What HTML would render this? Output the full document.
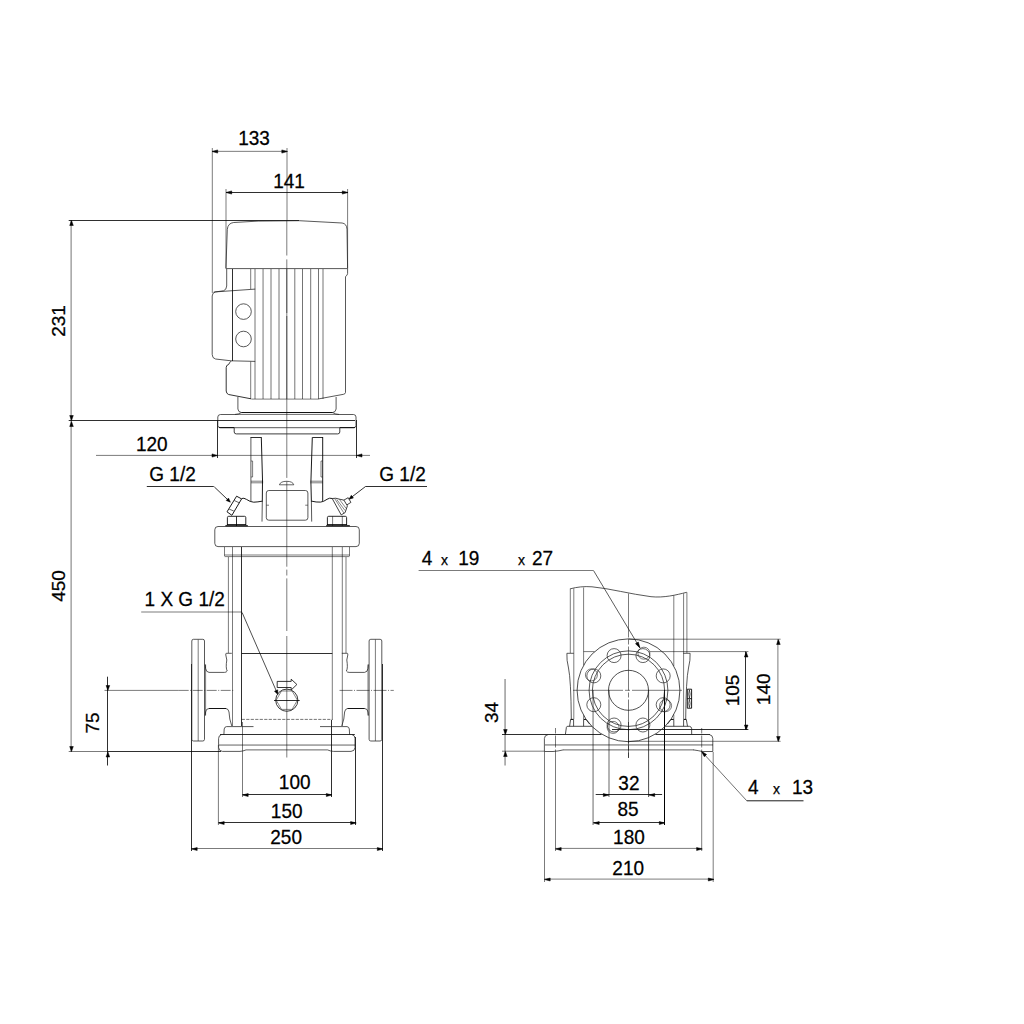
<!DOCTYPE html>
<html lang="en">
<head>
<meta charset="utf-8">
<title>Pump dimensional drawing</title>
<style>
html,body{margin:0;padding:0;background:#fff;}
body{width:1024px;height:1024px;overflow:hidden;}
svg{display:block;}
svg text{font-family:"Liberation Sans",sans-serif;font-size:19px;fill:#000;stroke:#000;stroke-width:0.25px;}
</style>
</head>
<body>
<svg width="1024" height="1024" viewBox="0 0 1024 1024">
<rect width="1024" height="1024" fill="#fff"/>
<line x1="212.30" y1="148.0" x2="212.30" y2="293.0" stroke="#000" stroke-width="0.52"/>
<line x1="287.00" y1="148.0" x2="287.00" y2="221.0" stroke="#000" stroke-width="0.52"/>
<line x1="212.0" y1="151.35" x2="287.0" y2="151.35" stroke="#000" stroke-width="0.52"/>
<polygon points="212.0,151.5 217.7,149.9 217.7,153.1" fill="#000" stroke="#000" stroke-width="0.5" stroke-linejoin="round"/>
<polygon points="287.5,151.5 281.8,153.1 281.8,149.9" fill="#000" stroke="#000" stroke-width="0.5" stroke-linejoin="round"/>
<text transform="translate(254.0 145.3) scale(1 1.04)" text-anchor="middle">133</text>
<line x1="226.00" y1="189.0" x2="226.00" y2="268.0" stroke="#000" stroke-width="0.52"/>
<line x1="347.60" y1="189.0" x2="347.60" y2="268.0" stroke="#000" stroke-width="0.52"/>
<line x1="226.0" y1="192.50" x2="348.0" y2="192.50" stroke="#000" stroke-width="0.82"/>
<polygon points="226.0,192.5 231.7,190.9 231.7,194.1" fill="#000" stroke="#000" stroke-width="0.5" stroke-linejoin="round"/>
<polygon points="348.0,192.5 342.3,194.1 342.3,190.9" fill="#000" stroke="#000" stroke-width="0.5" stroke-linejoin="round"/>
<text transform="translate(289.0 187.8) scale(1 1.04)" text-anchor="middle">141</text>
<line x1="71.10" y1="220.0" x2="71.10" y2="752.0" stroke="#000" stroke-width="0.55"/>
<line x1="68.7" y1="220.50" x2="299.0" y2="220.50" stroke="#000" stroke-width="0.82"/>
<line x1="68.7" y1="420.50" x2="355.0" y2="420.50" stroke="#000" stroke-width="0.82"/>
<line x1="68.7" y1="751.50" x2="107.4" y2="751.50" stroke="#000" stroke-width="0.52"/>
<line x1="107.4" y1="751.50" x2="221.0" y2="751.50" stroke="#000" stroke-width="0.82"/>
<polygon points="71.5,220.5 73.3,225.5 69.7,225.5" fill="#000" stroke="#000" stroke-width="0.5" stroke-linejoin="round"/>
<polygon points="71.5,420.5 69.7,415.5 73.3,415.5" fill="#000" stroke="#000" stroke-width="0.5" stroke-linejoin="round"/>
<polygon points="71.5,421.5 73.3,426.5 69.7,426.5" fill="#000" stroke="#000" stroke-width="0.5" stroke-linejoin="round"/>
<polygon points="71.5,751.5 69.7,746.5 73.3,746.5" fill="#000" stroke="#000" stroke-width="0.5" stroke-linejoin="round"/>
<text transform="translate(65.4 321.0) rotate(-90)" text-anchor="middle">231</text>
<text transform="translate(65.4 586.0) rotate(-90)" text-anchor="middle">450</text>
<line x1="107.50" y1="676.7" x2="107.50" y2="765.5" stroke="#000" stroke-width="0.82"/>
<polygon points="107.9,690.5 106.1,685.5 109.7,685.5" fill="#000" stroke="#000" stroke-width="0.5" stroke-linejoin="round"/>
<polygon points="107.9,752.0 109.7,757.0 106.1,757.0" fill="#000" stroke="#000" stroke-width="0.5" stroke-linejoin="round"/>
<text transform="translate(99.2 723.0) rotate(-90)" text-anchor="middle">75</text>
<line x1="96.0" y1="455.40" x2="370.0" y2="455.40" stroke="#000" stroke-width="0.52"/>
<line x1="217.50" y1="420.0" x2="217.50" y2="458.0" stroke="#000" stroke-width="0.82"/>
<line x1="356.50" y1="420.0" x2="356.50" y2="458.0" stroke="#000" stroke-width="0.82"/>
<polygon points="217.5,455.5 212.0,457.1 212.0,453.9" fill="#000" stroke="#000" stroke-width="0.5" stroke-linejoin="round"/>
<polygon points="356.5,455.5 362.0,453.9 362.0,457.1" fill="#000" stroke="#000" stroke-width="0.5" stroke-linejoin="round"/>
<text transform="translate(151.8 450.8) scale(1 1.04)" text-anchor="middle">120</text>
<line x1="146.8" y1="486.50" x2="213.8" y2="486.50" stroke="#000" stroke-width="0.82"/>
<path d="M214.3 486.9 L229.3 501.2" fill="none" stroke="#000" stroke-width="0.8" />
<polygon points="230.4,502.2 226.2,500.5 228.5,498.1" fill="#000" stroke="#000" stroke-width="0.5" stroke-linejoin="round"/>
<text transform="translate(172.5 480.6) scale(1 1.04)" text-anchor="middle">G 1/2</text>
<line x1="365.4" y1="486.50" x2="427.0" y2="486.50" stroke="#000" stroke-width="0.82"/>
<path d="M365.4 486.6 L350.5 498" fill="none" stroke="#000" stroke-width="0.8" />
<polygon points="349.0,499.2 351.3,495.3 353.4,498.0" fill="#000" stroke="#000" stroke-width="0.5" stroke-linejoin="round"/>
<text transform="translate(402.5 480.6) scale(1 1.04)" text-anchor="middle">G 1/2</text>
<line x1="141.2" y1="612.00" x2="242.1" y2="612.00" stroke="#000" stroke-width="0.52"/>
<path d="M242.1 612.5 L277.2 693" fill="none" stroke="#222" stroke-width="0.8" />
<polygon points="277.9,694.6 274.5,691.2 277.7,689.8" fill="#000" stroke="#000" stroke-width="0.5" stroke-linejoin="round"/>
<text transform="translate(184.7 605.8) scale(1 1.04)" text-anchor="middle">1 X G 1/2</text>
<line x1="242.50" y1="722.0" x2="242.50" y2="797.0" stroke="#000" stroke-width="0.52"/>
<line x1="331.50" y1="720.0" x2="331.50" y2="797.0" stroke="#000" stroke-width="0.82"/>
<line x1="242.5" y1="794.50" x2="332.0" y2="794.50" stroke="#000" stroke-width="0.82"/>
<polygon points="242.5,795.0 248.2,793.5 248.2,796.5" fill="#000" stroke="#000" stroke-width="0.5" stroke-linejoin="round"/>
<polygon points="332.0,795.0 326.3,796.5 326.3,793.5" fill="#000" stroke="#000" stroke-width="0.5" stroke-linejoin="round"/>
<text transform="translate(294.7 788.6) scale(1 1.04)" text-anchor="middle">100</text>
<line x1="218.40" y1="745.0" x2="218.40" y2="825.0" stroke="#000" stroke-width="0.52"/>
<line x1="355.50" y1="737.0" x2="355.50" y2="825.0" stroke="#000" stroke-width="0.82"/>
<line x1="218.5" y1="822.50" x2="356.0" y2="822.50" stroke="#000" stroke-width="0.82"/>
<polygon points="218.5,823.0 224.2,821.5 224.2,824.5" fill="#000" stroke="#000" stroke-width="0.5" stroke-linejoin="round"/>
<polygon points="356.3,823.0 350.6,824.5 350.6,821.5" fill="#000" stroke="#000" stroke-width="0.5" stroke-linejoin="round"/>
<text transform="translate(286.7 817.6) scale(1 1.04)" text-anchor="middle">150</text>
<line x1="191.50" y1="664.0" x2="191.50" y2="851.0" stroke="#000" stroke-width="0.82"/>
<line x1="382.50" y1="664.0" x2="382.50" y2="851.0" stroke="#000" stroke-width="0.82"/>
<line x1="191.3" y1="848.50" x2="382.9" y2="848.50" stroke="#000" stroke-width="0.52"/>
<polygon points="191.5,849.0 197.2,847.5 197.2,850.5" fill="#000" stroke="#000" stroke-width="0.5" stroke-linejoin="round"/>
<polygon points="383.0,849.0 377.3,850.5 377.3,847.5" fill="#000" stroke="#000" stroke-width="0.5" stroke-linejoin="round"/>
<text transform="translate(286.1 843.7) scale(1 1.04)" text-anchor="middle">250</text>
<line x1="286.80" y1="221.0" x2="286.80" y2="255.5" stroke="#000" stroke-width="0.52"/>
<line x1="286.80" y1="259.4" x2="286.80" y2="477.9" stroke="#000" stroke-width="0.52"/>
<line x1="286.80" y1="481.2" x2="286.80" y2="566.7" stroke="#000" stroke-width="0.52"/>
<line x1="286.80" y1="569.6" x2="286.80" y2="575.5" stroke="#000" stroke-width="0.52"/>
<line x1="286.80" y1="578.4" x2="286.80" y2="631.0" stroke="#000" stroke-width="0.52"/>
<line x1="286.80" y1="636.0" x2="286.80" y2="757.5" stroke="#000" stroke-width="0.52"/>
<line x1="286.80" y1="269.0" x2="286.80" y2="313.0" stroke="#000" stroke-width="0.5"/>
<line x1="286.80" y1="316.0" x2="286.80" y2="399.0" stroke="#000" stroke-width="0.5"/>
<line x1="104.5" y1="690.40" x2="178.7" y2="690.40" stroke="#000" stroke-width="0.52"/>
<line x1="178.7" y1="690.40" x2="234.7" y2="690.40" stroke="#000" stroke-width="0.52" stroke-dasharray="10 1.5 1 1.5"/>
<line x1="339.5" y1="690.40" x2="393.8" y2="690.40" stroke="#000" stroke-width="0.52" stroke-dasharray="13 1.5 1 1.5"/>
<path d="M225.9 268.6 L227.3 229.5 Q227.8 223.2 233.7 222.5 L258.1 221.1 L299.1 220.7 L342.1 223 Q346.6 223.6 347 229.1 L347.6 268.6 Z" fill="none" stroke="#222" stroke-width="0.75" />
<path d="M347.6 268.6 L347.6 273.5 Q347.4 275.5 345.5 276.6 L345.5 392.5 Q345.3 394 343.5 394.3 L318.7 398.9" fill="none" stroke="#222" stroke-width="0.75" />
<line x1="255.00" y1="269.0" x2="255.00" y2="399.0" stroke="#000" stroke-width="0.55"/>
<line x1="263.05" y1="269.0" x2="263.05" y2="399.0" stroke="#000" stroke-width="0.55"/>
<line x1="271.00" y1="269.0" x2="271.00" y2="399.0" stroke="#000" stroke-width="0.55"/>
<line x1="279.00" y1="269.0" x2="279.00" y2="399.0" stroke="#000" stroke-width="0.55"/>
<line x1="294.80" y1="269.0" x2="294.80" y2="399.0" stroke="#000" stroke-width="0.55"/>
<line x1="302.50" y1="269.0" x2="302.50" y2="399.0" stroke="#000" stroke-width="0.55"/>
<line x1="310.70" y1="269.0" x2="310.70" y2="399.0" stroke="#000" stroke-width="0.55"/>
<line x1="318.50" y1="269.0" x2="318.50" y2="399.0" stroke="#000" stroke-width="0.55"/>
<line x1="323.00" y1="269.0" x2="323.00" y2="399.0" stroke="#000" stroke-width="0.55"/>
<line x1="250.70" y1="269.0" x2="250.70" y2="289.0" stroke="#000" stroke-width="0.52"/>
<line x1="250.70" y1="361.5" x2="250.70" y2="399.0" stroke="#000" stroke-width="0.52"/>
<line x1="251.3" y1="399.10" x2="318.7" y2="399.10" stroke="#000" stroke-width="0.52"/>
<path d="M226.7 269 L226.7 286 Q226.5 289.8 223.5 290.8 L215.5 291.9 Q212.2 292.6 212.2 296 L212.2 354.5 Q212.2 358.3 215.5 359 L231 360.8" fill="none" stroke="#222" stroke-width="0.75" />
<path d="M213.8 292 L255.2 289.1" fill="none" stroke="#222" stroke-width="0.75" />
<path d="M231 360.8 L255.2 361.4" fill="none" stroke="#222" stroke-width="0.75" />
<line x1="232.50" y1="269.0" x2="232.50" y2="361.0" stroke="#000" stroke-width="0.82"/>
<circle cx="243.5" cy="311.6" r="7.8" fill="none" stroke="#222" stroke-width="0.75"/>
<circle cx="243.5" cy="339.0" r="7.8" fill="none" stroke="#222" stroke-width="0.75"/>
<path d="M231 361.2 Q229.5 362.5 228.6 364.5 Q226.2 365 226.2 367.5 L226.2 391 Q226.4 393.8 228.6 394.5 L251 398.8" fill="none" stroke="#111" stroke-width="0.85" />
<path d="M237.9 397 L237.9 409 Q238.2 412.2 241.5 412.6 L332.5 412.6 Q335.8 412.2 336.1 409 L336.1 397" fill="none" stroke="#222" stroke-width="0.75" />
<path d="M241.5 412.6 Q238.5 414.3 234.5 414.5 L220.5 414.5 Q217.8 414.7 217.8 417 L217.8 425.5 Q217.8 427.7 220.5 427.7 L353.5 427.7 Q356 427.7 356 425.5 L356 417 Q356 414.7 353.5 414.5 L339.5 414.5 Q335.5 414.3 332.5 412.6" fill="none" stroke="#222" stroke-width="0.75" />
<line x1="241.5" y1="412.50" x2="332.5" y2="412.50" stroke="#000" stroke-width="0.82"/>
<path d="M219 427.6 L234.2 427.6 M339.8 427.6 L355 427.6" fill="none" stroke="#000" stroke-width="0.9" />
<line x1="234.5" y1="414.50" x2="339.5" y2="414.50" stroke="#000" stroke-width="0.52"/>
<path d="M234.2 427.7 L234.2 432 Q234.3 433.9 236.3 433.9 L337.7 433.9 Q339.7 433.9 339.8 432 L339.8 427.7" fill="none" stroke="#333" stroke-width="0.95" />
<line x1="250.7" y1="437.50" x2="261.6" y2="437.50" stroke="#000" stroke-width="0.82"/>
<line x1="312.4" y1="437.50" x2="322.9" y2="437.50" stroke="#000" stroke-width="0.82"/>
<path d="M250.9 437 L250.9 501" fill="none" stroke="#222" stroke-width="0.75" />
<path d="M261.3 437.4 L262.5 480 L262.3 502" fill="none" stroke="#000" stroke-width="0.9" />
<path d="M262.3 502 L262 521.6" fill="none" stroke="#222" stroke-width="0.75" />
<path d="M322.7 437 L322.7 501" fill="none" stroke="#000" stroke-width="0.9" />
<path d="M312.3 437.4 L310.9 482 L311.4 502" fill="none" stroke="#000" stroke-width="0.9" />
<path d="M311.4 502 L311.7 521.6" fill="none" stroke="#222" stroke-width="0.75" />
<line x1="251.0" y1="481.20" x2="263.2" y2="481.20" stroke="#000" stroke-width="0.52"/>
<line x1="251.0" y1="482.80" x2="263.2" y2="482.80" stroke="#000" stroke-width="0.52"/>
<line x1="310.4" y1="481.20" x2="322.6" y2="481.20" stroke="#000" stroke-width="0.52"/>
<line x1="310.4" y1="482.80" x2="322.6" y2="482.80" stroke="#000" stroke-width="0.52"/>
<path d="M251 461 L252.6 461 L252.6 477 L251 477" fill="none" stroke="#222" stroke-width="0.6" />
<path d="M322.6 461 L321 461 L321 477 L322.6 477" fill="none" stroke="#222" stroke-width="0.6" />
<path d="M268.8 490.5 L305.4 490.5 Q307.9 490.5 307.9 493 L307.9 517.7 Q307.9 520.2 305.4 520.2 L268.8 520.2 Q266.3 520.2 266.3 517.7 L266.3 493 Q266.3 490.5 268.8 490.5 Z" fill="none" stroke="#222" stroke-width="0.75" />
<path d="M266.3 505.2 L269 505.2 M305.2 505.2 L307.9 505.2" fill="none" stroke="#222" stroke-width="0.6" />
<path d="M279.4 484.8 Q280.5 481.3 286.6 481.3 Q292.7 481.3 293.8 484.8 Z" fill="none" stroke="#222" stroke-width="0.7" />
<path d="M241.6 498.5 Q243.8 497.6 246.5 499.4 Q250.2 502 253.7 502.2 Q258 502 262 501.2" fill="none" stroke="#000" stroke-width="0.9" />
<path d="M332.2 498.5 Q329.6 497.5 327 499.3 Q323.5 501.9 320.5 502.1 Q316 502.3 311.9 501.2" fill="none" stroke="#000" stroke-width="0.9" />
<path d="M236.6 496.2 L241.6 498.9 L231.9 515.3 L227 511.8 Z" fill="none" stroke="#000" stroke-width="0.9" />
<path d="M234.2 500.5 L239.3 502.8 M229.1 509.1 L233.8 511" fill="none" stroke="#222" stroke-width="0.7" />
<path d="M332.2 498.5 Q335.5 497.6 340 499.3 L343.9 500.1 L347.4 505.9 L345.1 512.6 L341.2 514.9 Z" fill="none" stroke="#111" stroke-width="0.8" />
<path d="M334.9 498.9 L343.9 513 M336.9 499.7 L345.1 510.6 M339.5 499.5 L346.2 508.5" fill="none" stroke="#222" stroke-width="0.55" />
<path d="M343.9 500.1 L348.2 497.7 L350.9 502.4 L347 504.8" fill="none" stroke="#111" stroke-width="0.8" />
<path d="M227.4 525 L227.4 517.6 Q227.4 516.3 228.7 516.3 L244.5 516.3 Q245.8 516.3 245.8 517.6 L245.8 525" fill="none" stroke="#111" stroke-width="0.9" />
<line x1="236.50" y1="516.3" x2="236.50" y2="526.0" stroke="#000" stroke-width="0.82"/>
<line x1="227.0" y1="524.50" x2="246.0" y2="524.50" stroke="#000" stroke-width="0.82"/>
<line x1="225.4" y1="525.80" x2="247.8" y2="525.80" stroke="#000" stroke-width="1.2"/>
<path d="M327.4 525 L327.4 517.6 Q327.4 516.3 328.7 516.3 L345.3 516.3 Q346.6 516.3 346.6 517.6 L346.6 525" fill="none" stroke="#111" stroke-width="0.9" />
<line x1="332.60" y1="516.3" x2="332.60" y2="526.0" stroke="#000" stroke-width="0.52"/>
<line x1="342.30" y1="516.3" x2="342.30" y2="526.0" stroke="#000" stroke-width="0.52"/>
<line x1="327.0" y1="524.50" x2="347.0" y2="524.50" stroke="#000" stroke-width="0.82"/>
<line x1="326.2" y1="525.80" x2="349.8" y2="525.80" stroke="#000" stroke-width="1.2"/>
<path d="M218 526.5 L356 526.5 Q359.3 526.5 359.3 529.8 L359.3 543.3 Q359.3 546.6 356 546.6 L218 546.6 Q214.8 546.6 214.8 543.3 L214.8 529.8 Q214.8 526.5 218 526.5 Z" fill="none" stroke="#222" stroke-width="0.75" />
<line x1="224.50" y1="547.0" x2="224.50" y2="556.0" stroke="#000" stroke-width="0.52"/>
<line x1="349.50" y1="547.0" x2="349.50" y2="556.0" stroke="#000" stroke-width="0.52"/>
<line x1="224.5" y1="555.00" x2="349.5" y2="555.00" stroke="#000" stroke-width="0.52"/>
<line x1="224.5" y1="556.60" x2="349.5" y2="556.60" stroke="#000" stroke-width="0.52"/>
<line x1="241.50" y1="547.0" x2="241.50" y2="726.0" stroke="#000" stroke-width="0.82"/>
<line x1="332.30" y1="547.0" x2="332.30" y2="720.0" stroke="#000" stroke-width="0.52"/>
<line x1="228.40" y1="557.0" x2="228.40" y2="653.0" stroke="#000" stroke-width="0.52"/>
<line x1="232.50" y1="547.0" x2="232.50" y2="726.0" stroke="#000" stroke-width="0.52"/>
<line x1="346.00" y1="557.0" x2="346.00" y2="653.0" stroke="#000" stroke-width="0.52"/>
<line x1="342.30" y1="547.0" x2="342.30" y2="726.0" stroke="#000" stroke-width="0.52"/>
<line x1="241.7" y1="653.50" x2="332.3" y2="653.50" stroke="#000" stroke-width="0.82"/>
<line x1="241.7" y1="719.40" x2="332.3" y2="719.40" stroke="#000" stroke-width="0.55" stroke-dasharray="3.2 1.3"/>
<path d="M231.8 653.3 L226.2 653.3 Q225.6 653.6 225.8 655 L226.8 660 Q225.5 668 227.2 671 Q226.5 672.3 224.5 672.4 L209.0 672.4 Q206.0 672 205.6 668.5 L205.2 664.5" fill="none" stroke="#222" stroke-width="0.75" />
<path d="M205.2 715.5 L205.6 712 Q206.0 708.6 209.0 708.5 L226.0 708.5 Q228.5 708.8 229.0 712 L229.8 719 L231.8 726" fill="none" stroke="#222" stroke-width="0.75" />
<path d="M209.0 708.5 L226.0 708.5" fill="none" stroke="#000" stroke-width="0.8" />
<line x1="205.60" y1="664.5" x2="205.60" y2="715.5" stroke="#000" stroke-width="0.52"/>
<line x1="198.20" y1="639.5" x2="198.20" y2="741.0" stroke="#000" stroke-width="0.52"/>
<path d="M193.5 639.3 L202.8 639.3 Q204.5 639.3 204.5 641 L204.5 739.3 Q204.5 741 202.8 741 L193.5 741 Q191.8 741 191.8 739.3 L191.8 641 Q191.8 639.3 193.5 639.3 Z" fill="none" stroke="#222" stroke-width="0.75" />
<path d="M341.8 653.3 L347.4 653.3 Q348.0 653.6 347.8 655 L346.8 660 Q348.1 668 346.4 671 Q347.1 672.3 349.1 672.4 L364.6 672.4 Q367.6 672 368.0 668.5 L368.4 664.5" fill="none" stroke="#222" stroke-width="0.75" />
<path d="M368.4 715.5 L368.0 712 Q367.6 708.6 364.6 708.5 L347.6 708.5 Q345.1 708.8 344.6 712 L343.8 719 L341.8 726" fill="none" stroke="#222" stroke-width="0.75" />
<path d="M364.6 708.5 L347.6 708.5" fill="none" stroke="#000" stroke-width="0.8" />
<line x1="368.00" y1="664.5" x2="368.00" y2="715.5" stroke="#000" stroke-width="0.52"/>
<line x1="375.40" y1="639.5" x2="375.40" y2="741.0" stroke="#000" stroke-width="0.52"/>
<path d="M380.1 639.3 L370.8 639.3 Q369.1 639.3 369.1 641 L369.1 739.3 Q369.1 741 370.8 741 L380.1 741 Q381.8 741 381.8 739.3 L381.8 641 Q381.8 639.3 380.1 639.3 Z" fill="none" stroke="#222" stroke-width="0.75" />
<circle cx="286.8" cy="700.2" r="11.1" fill="none" stroke="#222" stroke-width="0.9"/>
<polygon points="297.4,700.2 292.1,709.4 281.5,709.4 276.2,700.2 281.5,691.0 292.1,691.0" fill="none" stroke="#333" stroke-width="0.6"/>
<line x1="274.0" y1="700.50" x2="299.7" y2="700.50" stroke="#000" stroke-width="0.82"/>
<path d="M277.2 681.4 L291.2 681.4 L291.2 679.2 L296.9 684.5 L291.2 690 L291.2 687.5 L277.2 687.5 Z" fill="none" stroke="#111" stroke-width="0.85" />
<path d="M226.5 726.6 L253.5 726.6 M320 726.6 L347 726.6 Q349 726.8 349.3 729 L349.6 734.4" fill="none" stroke="#222" stroke-width="0.75" />
<path d="M226.5 726.6 Q224.5 726.8 224.2 729 L223.9 734.4" fill="none" stroke="#222" stroke-width="0.75" />
<line x1="220.0" y1="734.50" x2="354.8" y2="734.50" stroke="#000" stroke-width="0.82"/>
<path d="M221.5 734.6 Q218.6 735.3 218.6 738.5 L218.6 747.5 Q218.8 751.2 222.5 751.4 L240 751.4 Q243 751.2 246 749.9" fill="none" stroke="#222" stroke-width="0.75" />
<path d="M327.5 749.9 Q330.5 751.2 333.5 751.4 L351 751.4 Q354.8 751.2 355 747.5 L355 738.5 Q355 735.3 352 734.6" fill="none" stroke="#222" stroke-width="0.75" />
<line x1="246.0" y1="749.90" x2="327.5" y2="749.90" stroke="#000" stroke-width="0.62"/>
<line x1="219.0" y1="745.05" x2="355.0" y2="745.05" stroke="#000" stroke-width="0.62"/>
<text transform="translate(427.0 565.0) scale(1 1.04)" text-anchor="middle">4</text>
<text transform="translate(444.6 564.6)" text-anchor="middle" style="font-size:14px">x</text>
<text transform="translate(468.8 565.0) scale(1 1.04)" text-anchor="middle">19</text>
<text transform="translate(521.6 564.6)" text-anchor="middle" style="font-size:14px">x</text>
<text transform="translate(542.5 565.0) scale(1 1.04)" text-anchor="middle">27</text>
<line x1="418.6" y1="570.50" x2="593.8" y2="570.50" stroke="#000" stroke-width="0.52"/>
<path d="M593.8 571 L639.6 647.4" fill="none" stroke="#333" stroke-width="0.8" />
<polygon points="640.0,648.0 635.5,643.7 638.3,642.0" fill="#000" stroke="#000" stroke-width="0.5" stroke-linejoin="round"/>
<line x1="505.05" y1="679.0" x2="505.05" y2="765.5" stroke="#000" stroke-width="0.6"/>
<line x1="502.0" y1="734.50" x2="601.5" y2="734.50" stroke="#000" stroke-width="0.82"/>
<line x1="655.4" y1="734.50" x2="710.0" y2="734.50" stroke="#000" stroke-width="0.82"/>
<line x1="502.0" y1="751.20" x2="545.0" y2="751.20" stroke="#000" stroke-width="0.52"/>
<polygon points="505.4,734.5 503.6,729.5 507.2,729.5" fill="#000" stroke="#000" stroke-width="0.5" stroke-linejoin="round"/>
<polygon points="505.4,751.5 507.2,756.5 503.6,756.5" fill="#000" stroke="#000" stroke-width="0.5" stroke-linejoin="round"/>
<text transform="translate(498.0 712.5) rotate(-90)" text-anchor="middle">34</text>
<line x1="628.0" y1="639.20" x2="780.6" y2="639.20" stroke="#000" stroke-width="0.52"/>
<line x1="628.0" y1="741.30" x2="780.6" y2="741.30" stroke="#000" stroke-width="0.52"/>
<line x1="777.90" y1="639.2" x2="777.90" y2="741.0" stroke="#000" stroke-width="0.52"/>
<polygon points="778.4,639.5 780.2,644.5 776.6,644.5" fill="#000" stroke="#000" stroke-width="0.5" stroke-linejoin="round"/>
<polygon points="778.4,741.5 776.6,736.5 780.2,736.5" fill="#000" stroke="#000" stroke-width="0.5" stroke-linejoin="round"/>
<text transform="translate(770.1 689.3) rotate(-90)" text-anchor="middle">140</text>
<line x1="583.6" y1="651.60" x2="594.5" y2="651.60" stroke="#000" stroke-width="0.52"/>
<line x1="650.0" y1="651.60" x2="748.4" y2="651.60" stroke="#000" stroke-width="0.52"/>
<line x1="612.0" y1="729.50" x2="748.4" y2="729.50" stroke="#000" stroke-width="0.82"/>
<line x1="745.50" y1="651.5" x2="745.50" y2="729.5" stroke="#000" stroke-width="0.82"/>
<polygon points="746.2,652.0 748.0,657.0 744.4,657.0" fill="#000" stroke="#000" stroke-width="0.5" stroke-linejoin="round"/>
<polygon points="746.2,730.0 744.4,725.0 748.0,725.0" fill="#000" stroke="#000" stroke-width="0.5" stroke-linejoin="round"/>
<text transform="translate(739.4 690.5) rotate(-90)" text-anchor="middle">105</text>
<line x1="609.00" y1="690.0" x2="609.00" y2="797.0" stroke="#000" stroke-width="0.6"/>
<line x1="648.60" y1="690.0" x2="648.60" y2="797.0" stroke="#000" stroke-width="0.7"/>
<line x1="595.7" y1="794.50" x2="662.1" y2="794.50" stroke="#000" stroke-width="0.82"/>
<polygon points="609.0,795.0 603.3,796.5 603.3,793.5" fill="#000" stroke="#000" stroke-width="0.5" stroke-linejoin="round"/>
<polygon points="649.0,795.0 654.7,793.5 654.7,796.5" fill="#000" stroke="#000" stroke-width="0.5" stroke-linejoin="round"/>
<text transform="translate(628.9 789.8) scale(1 1.04)" text-anchor="middle">32</text>
<line x1="593.05" y1="690.0" x2="593.05" y2="825.0" stroke="#000" stroke-width="0.6"/>
<line x1="664.50" y1="690.0" x2="664.50" y2="825.0" stroke="#000" stroke-width="1"/>
<line x1="593.4" y1="822.50" x2="665.0" y2="822.50" stroke="#000" stroke-width="0.82"/>
<polygon points="593.5,823.0 599.2,821.5 599.2,824.5" fill="#000" stroke="#000" stroke-width="0.5" stroke-linejoin="round"/>
<polygon points="665.0,823.0 659.3,824.5 659.3,821.5" fill="#000" stroke="#000" stroke-width="0.5" stroke-linejoin="round"/>
<text transform="translate(628.0 815.6) scale(1 1.04)" text-anchor="middle">85</text>
<line x1="555.50" y1="728.0" x2="555.50" y2="751.0" stroke="#000" stroke-width="0.52" stroke-dasharray="5.5 2 12 2"/>
<line x1="701.70" y1="728.0" x2="701.70" y2="751.0" stroke="#000" stroke-width="0.52" stroke-dasharray="5.5 2 12 2"/>
<line x1="555.50" y1="751.0" x2="555.50" y2="851.0" stroke="#000" stroke-width="0.52"/>
<line x1="701.70" y1="751.0" x2="701.70" y2="851.0" stroke="#000" stroke-width="0.52"/>
<line x1="555.5" y1="848.40" x2="702.0" y2="848.40" stroke="#000" stroke-width="0.52"/>
<polygon points="555.5,849.0 561.2,847.5 561.2,850.5" fill="#000" stroke="#000" stroke-width="0.5" stroke-linejoin="round"/>
<polygon points="702.3,849.0 696.6,850.5 696.6,847.5" fill="#000" stroke="#000" stroke-width="0.5" stroke-linejoin="round"/>
<text transform="translate(628.9 843.8) scale(1 1.04)" text-anchor="middle">180</text>
<line x1="544.50" y1="752.0" x2="544.50" y2="882.0" stroke="#000" stroke-width="0.52"/>
<line x1="713.20" y1="752.0" x2="713.20" y2="882.0" stroke="#000" stroke-width="0.52"/>
<line x1="544.5" y1="879.10" x2="713.5" y2="879.10" stroke="#000" stroke-width="0.52"/>
<polygon points="544.5,879.5 550.2,878.0 550.2,881.0" fill="#000" stroke="#000" stroke-width="0.5" stroke-linejoin="round"/>
<polygon points="714.0,879.5 708.3,881.0 708.3,878.0" fill="#000" stroke="#000" stroke-width="0.5" stroke-linejoin="round"/>
<text transform="translate(628.2 874.8) scale(1 1.04)" text-anchor="middle">210</text>
<text transform="translate(753.3 794.3) scale(1 1.04)" text-anchor="middle">4</text>
<text transform="translate(776.6 793.8)" text-anchor="middle" style="font-size:14px">x</text>
<text transform="translate(802.5 794.3) scale(1 1.04)" text-anchor="middle">13</text>
<path d="M701.7 751.6 L746.8 800.8" fill="none" stroke="#333" stroke-width="0.7" />
<line x1="746.8" y1="800.80" x2="803.5" y2="800.80" stroke="#000" stroke-width="0.9"/>
<polygon points="701.4,751.2 706.6,754.5 704.3,756.7" fill="#000" stroke="#000" stroke-width="0.5" stroke-linejoin="round"/>
<circle cx="628.5" cy="690.3" r="51.4" fill="none" stroke="#222" stroke-width="0.8"/>
<circle cx="628.5" cy="690.3" r="39.4" fill="none" stroke="#222" stroke-width="0.75"/>
<circle cx="628.5" cy="690.3" r="36.1" fill="none" stroke="#222" stroke-width="0.75"/>
<circle cx="628.5" cy="690.3" r="20.0" fill="none" stroke="#222" stroke-width="0.8"/>
<circle cx="663.2" cy="704.7" r="7.0" fill="none" stroke="#222" stroke-width="0.7"/>
<circle cx="665.6" cy="705.7" r="6.0" fill="none" stroke="#222" stroke-width="0.6"/>
<circle cx="642.9" cy="725.0" r="7.0" fill="none" stroke="#222" stroke-width="0.7"/>
<circle cx="614.1" cy="725.0" r="7.0" fill="none" stroke="#222" stroke-width="0.7"/>
<circle cx="613.1" cy="727.4" r="6.0" fill="none" stroke="#222" stroke-width="0.6"/>
<circle cx="593.8" cy="704.7" r="7.0" fill="none" stroke="#222" stroke-width="0.7"/>
<circle cx="593.8" cy="675.9" r="7.0" fill="none" stroke="#222" stroke-width="0.7"/>
<circle cx="591.4" cy="674.9" r="6.0" fill="none" stroke="#222" stroke-width="0.6"/>
<circle cx="614.1" cy="655.6" r="7.0" fill="none" stroke="#222" stroke-width="0.7"/>
<circle cx="642.9" cy="655.6" r="7.0" fill="none" stroke="#222" stroke-width="0.7"/>
<circle cx="643.9" cy="653.2" r="6.0" fill="none" stroke="#222" stroke-width="0.6"/>
<circle cx="663.2" cy="675.9" r="7.0" fill="none" stroke="#222" stroke-width="0.7"/>
<line x1="628.50" y1="593.5" x2="628.50" y2="758.0" stroke="#000" stroke-width="0.52" stroke-dasharray="44 2 5 2"/>
<line x1="628.50" y1="722.0" x2="628.50" y2="757.8" stroke="#000" stroke-width="0.52"/>
<line x1="573.0" y1="690.30" x2="683.0" y2="690.30" stroke="#000" stroke-width="0.52" stroke-dasharray="50 2 5 2"/>
<path d="M570.3 588.8 C577 587 584 586.2 592 586.8 C610 588.5 630 594 651 596.7 C664 598 676 595 686.7 592.3" fill="none" stroke="#222" stroke-width="0.75" />
<line x1="570.30" y1="588.5" x2="570.30" y2="653.0" stroke="#000" stroke-width="0.52"/>
<line x1="573.80" y1="588.5" x2="573.80" y2="719.0" stroke="#000" stroke-width="0.52"/>
<line x1="583.60" y1="587.5" x2="583.60" y2="665.3" stroke="#000" stroke-width="0.52"/>
<line x1="583.60" y1="715.3" x2="583.60" y2="719.0" stroke="#000" stroke-width="0.52"/>
<line x1="673.80" y1="595.5" x2="673.80" y2="666.0" stroke="#000" stroke-width="0.52"/>
<line x1="673.80" y1="714.6" x2="673.80" y2="719.0" stroke="#000" stroke-width="0.52"/>
<line x1="683.60" y1="593.5" x2="683.60" y2="719.0" stroke="#000" stroke-width="0.52"/>
<line x1="686.90" y1="592.3" x2="686.90" y2="653.0" stroke="#000" stroke-width="0.52"/>
<path d="M573.8 653.3 L566.9 653.3 Q566.5 660 568.5 668 Q571 680 571.3 719" fill="none" stroke="#222" stroke-width="0.75" />
<path d="M683.2 653.3 L690.1 653.3 Q690.5 660 688.5 668 Q686 680 685.7 719" fill="none" stroke="#222" stroke-width="0.75" />
<path d="M570.6 719.4 L573.6 719.4 M583.6 719.4 L586 719.4 M671 719.4 L673.8 719.4 M683.6 719.4 L686.3 719.4" fill="none" stroke="#000" stroke-width="1" />
<path d="M570.6 719.4 L569.6 726.3 M573.6 719.4 L573.6 726.3 M583.6 719.4 L583.6 726.3 M586 719.4 L589.5 724 M671 719.4 L667.5 724 M673.8 719.4 L673.8 726.3 M683.6 719.4 L683.6 726.3 M686.3 719.4 L687.5 726.3" fill="none" stroke="#222" stroke-width="0.8" />
<path d="M687.3 689.2 L691.6 689.2 L691.6 708.2 L687.3 708.2 Z M687.3 698.7 L691.6 698.7" fill="none" stroke="#000" stroke-width="0.9" />
<path d="M689.4 690 Q688 694 689.4 698 Q690.9 694 689.4 690 M689.4 699.4 Q688 703.5 689.4 707.5 Q690.9 703.5 689.4 699.4" fill="none" stroke="#000" stroke-width="0.6" />
<path d="M565.4 734.4 L566.4 727.3 Q566.6 726.3 567.8 726.3 L592 726.3" fill="none" stroke="#222" stroke-width="0.8" />
<path d="M665.2 726.3 L689.4 726.3 Q691.2 726.5 691.6 728.2 L691.7 734.4" fill="none" stroke="#222" stroke-width="0.8" />
<path d="M548 734.6 Q544.4 735.2 544.4 738.5 L544.4 751.5 L553 751.5 Q558 751.2 563.2 749.9" fill="none" stroke="#222" stroke-width="0.75" />
<path d="M693.5 749.9 Q698.5 750.6 702.2 751.5 L712.8 751.5 L712.8 738.5 Q712.8 735.2 709.4 734.6" fill="none" stroke="#222" stroke-width="0.75" />
<line x1="545.0" y1="744.95" x2="713.0" y2="744.95" stroke="#000" stroke-width="0.62"/>
<line x1="563.0" y1="749.90" x2="694.0" y2="749.90" stroke="#000" stroke-width="0.62"/>
</svg>
</body>
</html>
